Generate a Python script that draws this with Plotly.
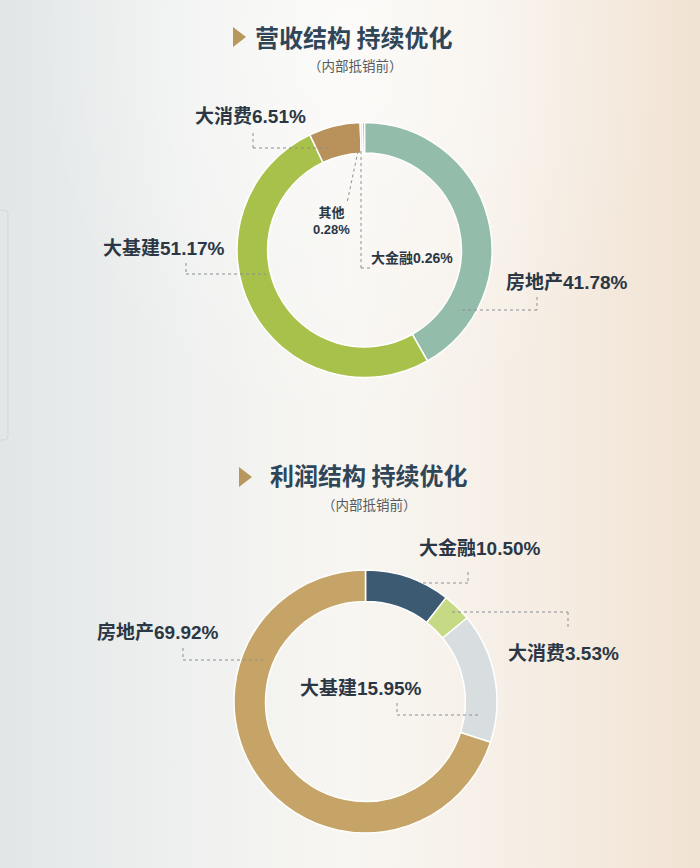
import base64
import plotly.graph_objects as go

W, H = 700, 868

# ---------------- data ----------------
rev_labels = ["房地产", "大基建", "大消费", "其他", "大金融"]
rev_values = [41.78, 51.17, 6.51, 0.28, 0.26]
rev_colors = ["#93bcab", "#a8c14a", "#b8925a", "#ddd3c0", "#7d94aa"]

prof_labels = ["大金融", "大消费", "大基建", "房地产"]
prof_values = [10.50, 3.53, 15.95, 69.92]
prof_colors = ["#3c5a72", "#c6d984", "#d8dde0", "#c6a468"]

titles = ["营收结构 持续优化", "利润结构 持续优化"]
subtitle = "（内部抵销前）"

# ---------------- helpers ----------------
def px(x):
    return x / W

def py(y):
    return 1 - y / H

def dom(cx, cy, r):
    return dict(x=[px(cx - r), px(cx + r)], y=[py(cy + r), py(cy - r)])

TXT = "#2b3744"
TITLE = "#2f4558"
GOLD = "#b8975e"
LEAD = "#8a8f94"
FONT = "Liberation Sans, Noto Sans CJK SC, sans-serif"

fig = go.Figure()

fig.add_trace(go.Pie(
    labels=rev_labels, values=rev_values, hole=0.76, sort=False,
    direction="clockwise", rotation=0,
    marker=dict(colors=rev_colors, line=dict(color="white", width=1.5)),
    textinfo="none", hoverinfo="label+percent", showlegend=False,
    domain=dom(364.5, 250, 127.5),
))
fig.add_trace(go.Pie(
    labels=prof_labels, values=prof_values, hole=0.76, sort=False,
    direction="clockwise", rotation=0,
    marker=dict(colors=prof_colors, line=dict(color="white", width=1.5)),
    textinfo="none", hoverinfo="label+percent", showlegend=False,
    domain=dom(365.5, 701.5, 131.5),
))

ann = []
shapes = []

def label(text, x, y, size=19, anchor="left"):
    ann.append(dict(text="<b>" + text + "</b>", x=px(x), y=py(y), xref="paper", yref="paper",
                    xanchor=anchor, yanchor="middle", showarrow=False,
                    font=dict(family=FONT, size=size, color=TXT)))

def lead(points):
    for (x0, y0), (x1, y1) in zip(points[:-1], points[1:]):
        shapes.append(dict(type="line", xref="paper", yref="paper",
                           x0=px(x0), y0=py(y0), x1=px(x1), y1=py(y1),
                           line=dict(color=LEAD, width=1, dash="dot")))

def fmt(lbl, v):
    return f"{lbl}{v:.2f}%"

# titles
for t, cx, cy, sy, tri in [(titles[0], 354, 36, 65, (233, 37)), (titles[1], 368, 474, 504, (239, 477))]:
    ann.append(dict(text="<b>" + t + "</b>", x=px(cx), y=py(cy), xref="paper", yref="paper",
                    xanchor="center", yanchor="middle", showarrow=False,
                    font=dict(family="Noto Sans CJK SC", size=24, color=TITLE)))
    ann.append(dict(text=subtitle, x=px(cx + 1), y=py(sy), xref="paper", yref="paper",
                    xanchor="center", yanchor="middle", showarrow=False,
                    font=dict(family="Noto Sans CJK SC", size=13.5, color="#555b60")))
    tx, ty = tri
    shapes.append(dict(type="path", xref="paper", yref="paper",
                       path=f"M {px(tx)} {py(ty-10)} L {px(tx+13)} {py(ty)} L {px(tx)} {py(ty+10)} Z",
                       fillcolor=GOLD, line=dict(width=0)))

# top chart labels
label(fmt(rev_labels[2], rev_values[2]), 193, 117)
lead([(253, 133), (253, 148), (330, 148)])
label(fmt(rev_labels[1], rev_values[1]), 101, 248)
lead([(186, 263), (186, 274), (266, 274)])
label(fmt(rev_labels[0], rev_values[0]), 504, 282)
lead([(537, 297), (537, 310), (458, 310)])
label(f"{rev_labels[3]}<br>{rev_values[3]:.2f}%", 331, 221, size=13, anchor="center")
lead([(358, 151), (347, 203)])
label(fmt(rev_labels[4], rev_values[4]), 369, 258, size=14)
lead([(361, 151), (361, 268), (372, 268)])

# bottom chart labels
label(fmt(prof_labels[0], prof_values[0]), 417, 548)
lead([(468, 572), (468, 583), (423, 583)])
label(fmt(prof_labels[1], prof_values[1]), 506, 653)
lead([(452, 612), (568, 612), (568, 628)])
label(fmt(prof_labels[3], prof_values[3]), 95, 632)
lead([(183, 648), (183, 660), (263, 660)])
label(fmt(prof_labels[2], prof_values[2]), 298, 688)
lead([(397, 703), (397, 715), (478, 715)])

# left edge artefact (rounded outline)
shapes.append(dict(type="path", xref="paper", yref="paper",
                   path=f"M {px(0)} {py(210)} L {px(4)} {py(210)} Q {px(8)} {py(210)} {px(8)} {py(214)} "
                        f"L {px(8)} {py(436)} Q {px(8)} {py(440)} {px(4)} {py(440)} L {px(0)} {py(440)}",
                   line=dict(color="#d3d7d9", width=1)))

# background gradient as svg image
svg = f'''<svg xmlns="http://www.w3.org/2000/svg" width="{W}" height="{H}">
<defs>
<linearGradient id="g" x1="0" y1="0" x2="1" y2="0">
<stop offset="0" stop-color="#e2e6e7"/>
<stop offset="0.25" stop-color="#eef0ef"/>
<stop offset="0.5" stop-color="#f8f6f2"/>
<stop offset="0.75" stop-color="#f6eee5"/>
<stop offset="1" stop-color="#f1e3d3"/>
</linearGradient>
<radialGradient id="r" cx="0.5" cy="0.05" r="0.45">
<stop offset="0" stop-color="#ffffff" stop-opacity="0.55"/>
<stop offset="1" stop-color="#ffffff" stop-opacity="0"/>
</radialGradient>
</defs>
<rect width="{W}" height="{H}" fill="url(#g)"/>
<rect width="{W}" height="{H}" fill="url(#r)"/>
</svg>'''
src = "data:image/svg+xml;base64," + base64.b64encode(svg.encode()).decode()

fig.update_layout(
    width=W, height=H, margin=dict(l=0, r=0, t=0, b=0),
    paper_bgcolor="#f3f1ee", plot_bgcolor="rgba(0,0,0,0)",
    annotations=ann, shapes=shapes,
    images=[dict(source=src, xref="paper", yref="paper", x=0, y=1, sizex=1, sizey=1,
                 xanchor="left", yanchor="top", sizing="stretch", layer="below")],
)

fig.write_html("out.html", config={"displayModeBar": False})
